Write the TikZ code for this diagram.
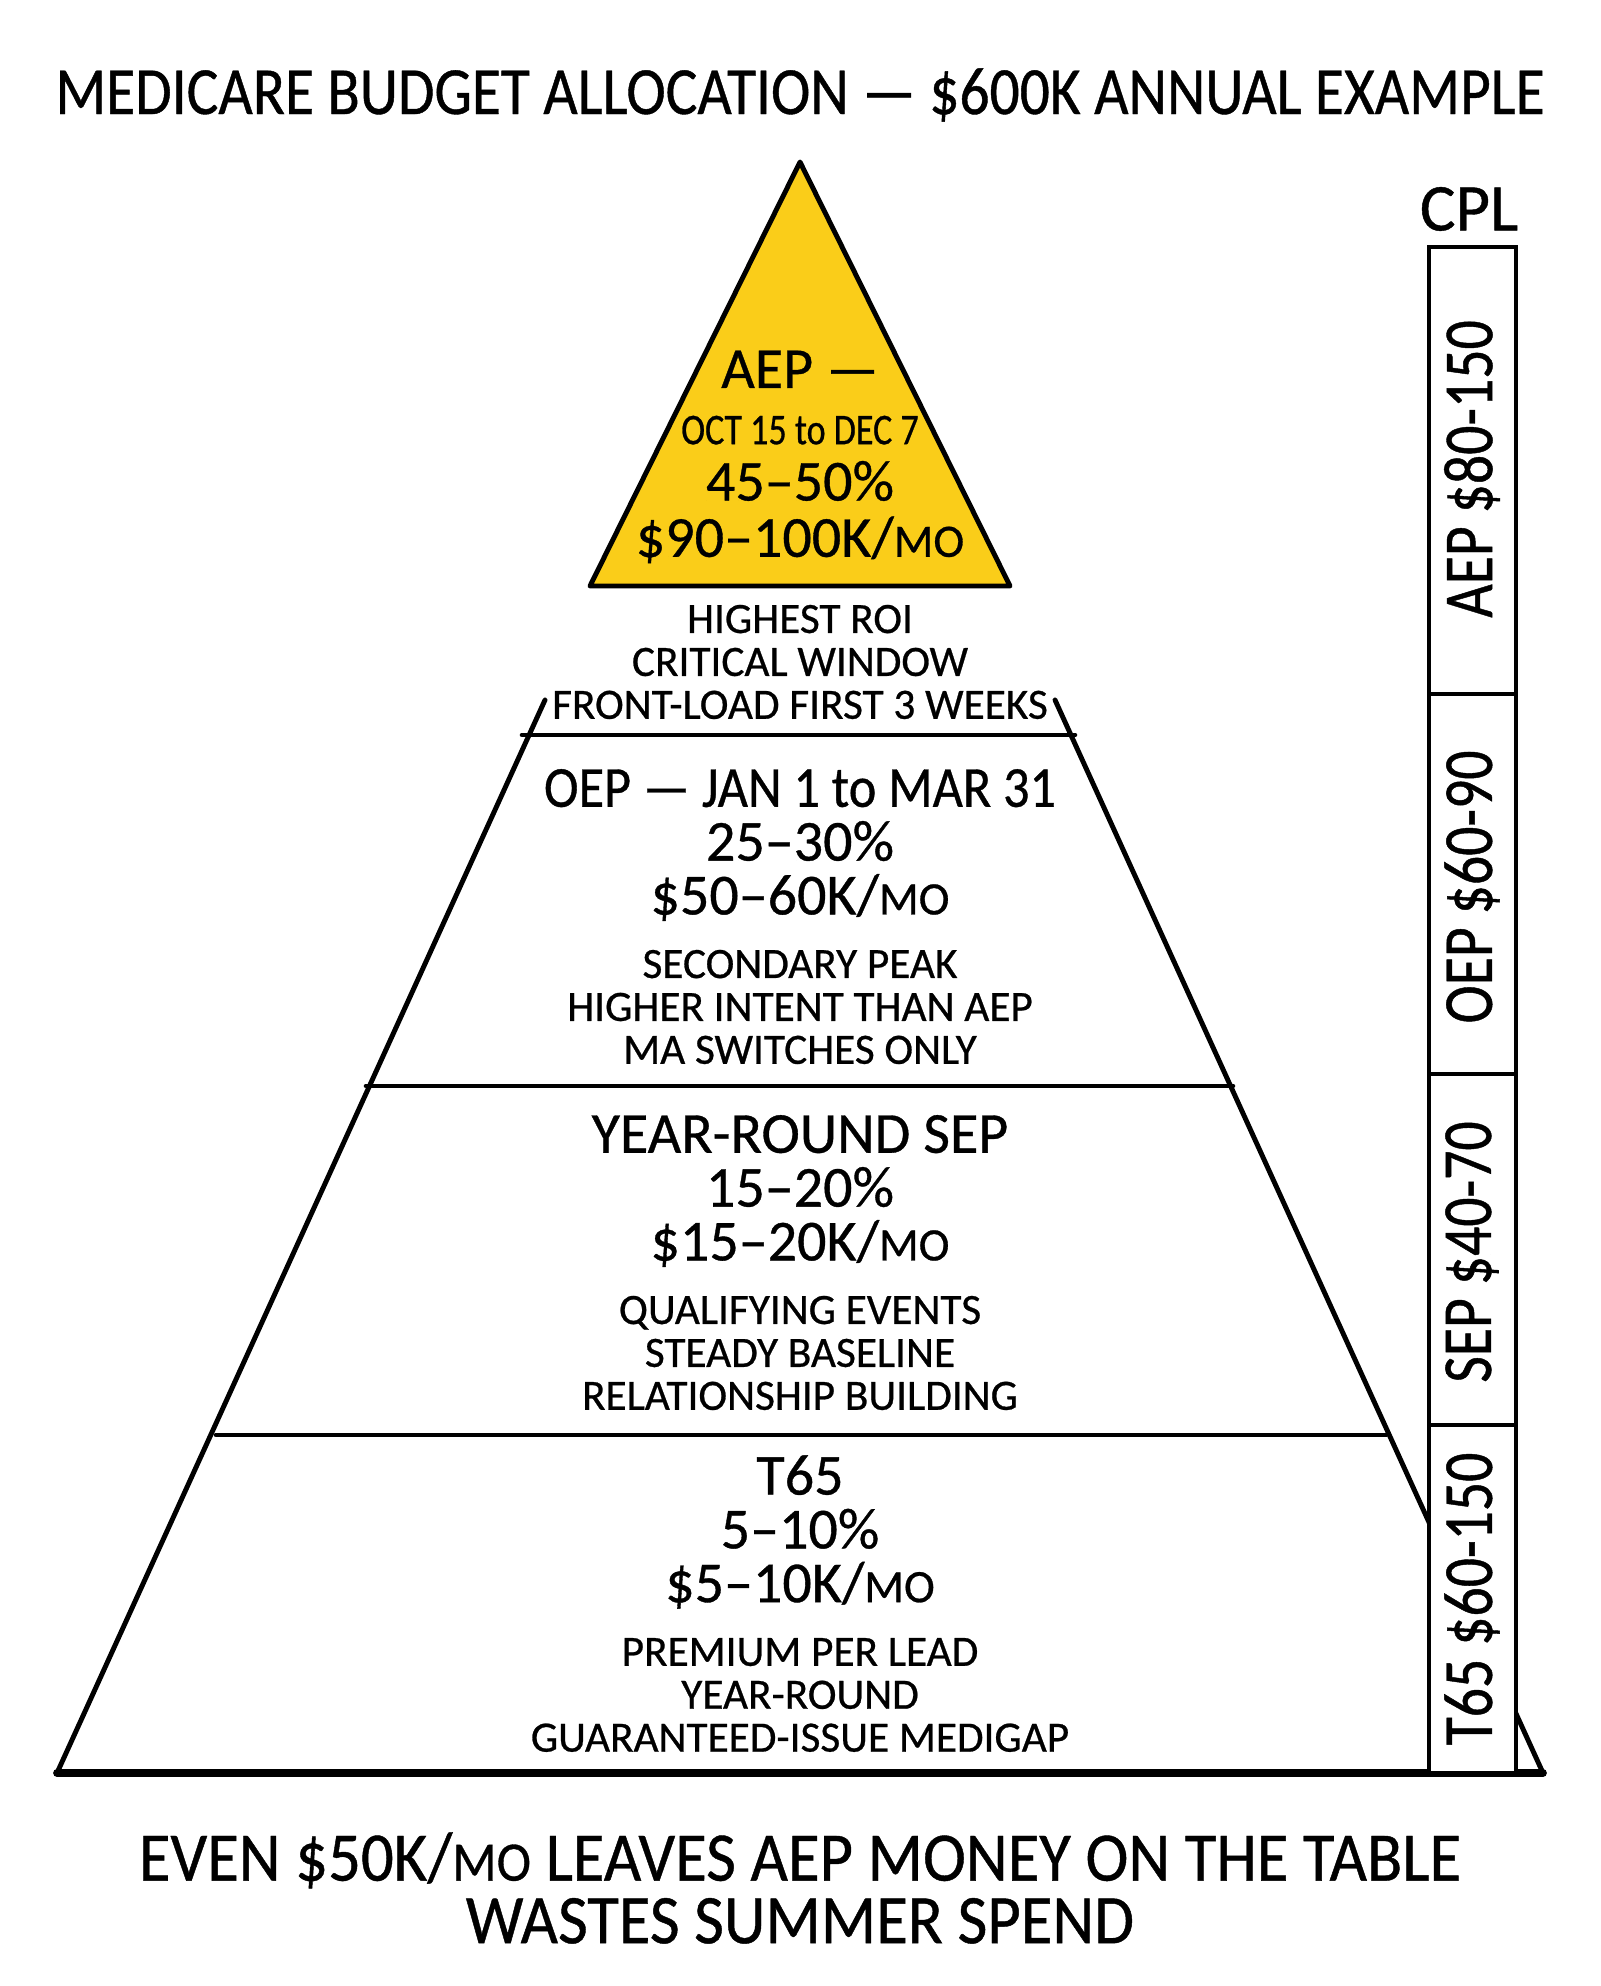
\documentclass[tikz,border=0pt]{standalone}
\usepackage{fontspec}
\usepackage{graphicx}
\setmainfont[FakeBold=0.6]{Carlito}
\newfontfamily\narrowfont[FakeStretch=0.82,FakeBold=0.6]{Carlito}
\newfontfamily\midfont[FakeStretch=0.9,FakeBold=0.6]{Carlito}
\newfontfamily\bannerfont[FakeStretch=0.88,FakeBold=0.6]{Carlito}
\newfontfamily\moralfont[FakeStretch=0.93,FakeBold=0.6]{Carlito}
\usetikzlibrary{positioning}

\definecolor{aepyellow}{RGB}{250,205,25}
\newcommand{\mo}{\scalebox{0.8}{MO}}

\begin{document}
\begin{tikzpicture}[
	x=0.01cm, y=-0.01cm,
	outline/.style = {line width=1.4pt, line join=round, line cap=round},
	divider/.style = {line width=1.3pt, line cap=round},
	colline/.style = {line width=1.1pt},
	head/.style = {align=center, inner sep=0pt,
		font=\fontsize{16.5}{15.3}\selectfont},
	note/.style = {align=center, inner sep=0pt,
		font=\fontsize{12.3}{12.2}\selectfont},
	cpl/.style = {rotate=90, inner sep=0pt,
		font=\narrowfont\fontsize{20}{22}\selectfont},
	banner/.style = {align=center, inner sep=0pt,
		font=\moralfont\fontsize{19.8}{17.8}\selectfont}
]
\useasboundingbox (0,0) rectangle (1600,1986);
\fill[white] (0,0) rectangle (1600,1986);

\node (title) [banner, font=\bannerfont\fontsize{19.2}{20}\selectfont]
	at (800,95) {MEDICARE BUDGET ALLOCATION — \$600K ANNUAL EXAMPLE};

% pyramid
\coordinate (apex) at (800,162);
\coordinate (bl)   at (57,1773);
\coordinate (br)   at (1543,1773);

\draw[outline, fill=aepyellow] (apex) -- (590,586) -- (1010,586) -- cycle;
\draw[outline] (545,700) -- (bl);
\draw[outline] (1055,700) -- (br);
\draw[line width=2.2pt, line cap=round] (bl) -- (br);

\draw[divider] (522,735)  -- (1075,735);
\draw[divider] (366,1086) -- (1233,1086);
\draw[divider] (216,1435) -- (1386,1435);

\node (aephead) [head, font=\fontsize{16.5}{16}\selectfont] at (800,457)
	{AEP —\\
	 {\narrowfont\fontsize{12.5}{16}\selectfont OCT 15 to DEC 7}\\
	 45–50\%\\
	 \$90–100K/\mo};
\node (aepnote) [note] at (800,662)
	{HIGHEST ROI\\ CRITICAL WINDOW\\ FRONT-LOAD FIRST 3 WEEKS};

\node (oephead) [head] at (800,845)
	{{\midfont OEP — JAN 1 to MAR 31}\\ 25–30\%\\ \$50–60K/\mo};
\node (oepnote) [note] at (800,1007)
	{SECONDARY PEAK\\ HIGHER INTENT THAN AEP\\ MA SWITCHES ONLY};

\node (sephead) [head] at (800,1191)
	{YEAR-ROUND SEP\\ 15–20\%\\ \$15–20K/\mo};
\node (sepnote) [note] at (800,1353)
	{QUALIFYING EVENTS\\ STEADY BASELINE\\ RELATIONSHIP BUILDING};

\node (t65head) [head] at (800,1532)
	{T65\\ 5–10\%\\ \$5–10K/\mo};
\node (t65note) [note] at (800,1695)
	{PREMIUM PER LEAD\\ YEAR-ROUND\\ GUARANTEED-ISSUE MEDIGAP};

% CPL column
\draw[colline, fill=white] (1429,247) rectangle (1516,1773);
\draw[colline] (1429,694)  -- (1516,694);
\draw[colline] (1429,1074) -- (1516,1074);
\draw[colline] (1429,1425) -- (1516,1425);

\node (cplhead) [inner sep=0pt, font=\fontsize{19}{22}\selectfont]
	at (1469,209) {CPL};
\node (cplaep) [cpl] at (1472,469)  {AEP \$80-150};
\node (cploep) [cpl] at (1472,887)  {OEP \$60-90};
\node (cplsep) [cpl] at (1472,1252) {SEP \$40-70};
\node (cplt65) [cpl] at (1472,1599) {T65 \$60-150};

\node (moral) [banner] at (800,1888)
	{EVEN \$50K/\mo{} LEAVES AEP MONEY ON THE TABLE\\ WASTES SUMMER SPEND};
\end{tikzpicture}
\end{document}
